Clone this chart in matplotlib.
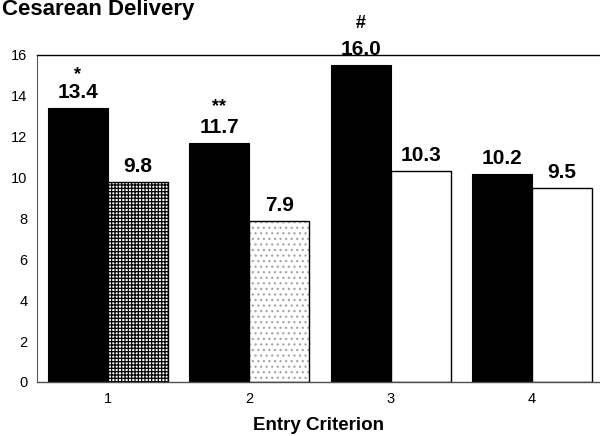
import matplotlib
matplotlib.use("Agg")
import matplotlib.pyplot as plt

plt.rcParams['font.family'] = ['Liberation Sans', 'DejaVu Sans']
plt.rcParams['hatch.linewidth'] = 0.9

# ======================================
# DATA
# ======================================
criteria = [1, 2, 3, 4]
black_heights = [13.4, 11.7, 15.5, 10.2]
black_labels = ["13.4", "11.7", "16.0", "10.2"]
other_heights = [9.8, 7.9, 10.3, 9.5]
other_labels = ["9.8", "7.9", "10.3", "9.5"]
markers = ["*", "**", "#", ""]

# style of the second bar in each group
other_hatch = ['+++++', '...', '', '']
other_hatch_color = ['black', '0.65', 'white', 'white']
marker_offset_px = [29, 32, 37, 0]

width = 0.425

fig = plt.figure(figsize=(6, 4.36), dpi=100)
ax = fig.add_axes([0.0617, 0.1239, 0.9383, 0.75])

xb = [c - width / 2 for c in criteria]
xo = [c + width / 2 for c in criteria]

ax.bar(xb, black_heights, width=width, color='black', edgecolor='black', linewidth=0.8)

# hatched fill first, then outline on top
for x, h, hatch, hc in zip(xo, other_heights, other_hatch, other_hatch_color):
    ax.bar(x, h, width=width, color='white', edgecolor=hc, linewidth=0, hatch=hatch)
    ax.bar(x, h, width=width, fill=False, edgecolor='black', linewidth=1.0)

# value labels
for x, h, lab in zip(xb + xo, black_heights + other_heights, black_labels + other_labels):
    ax.annotate(lab, (x, h), xytext=(0, 10), textcoords='offset pixels',
                ha='center', va='baseline', fontsize=15, fontweight='bold')

# significance markers
for x, h, m, off in zip(xb, black_heights, markers, marker_offset_px):
    if m:
        ax.annotate(m, (x, h), xytext=(0, off), textcoords='offset pixels',
                    ha='center', va='baseline', fontsize=13, fontweight='bold')

ax.set_xlim(0.5, 4.48)
ax.set_ylim(0, 16)
ax.set_yticks(range(0, 17, 2))
ax.set_xticks(criteria)
ax.tick_params(axis='both', length=0, labelsize=10.5)
ax.tick_params(axis='y', pad=7)
ax.tick_params(axis='x', pad=7)

ax.spines['right'].set_visible(False)
ax.spines['left'].set_color('0.35')
ax.spines['left'].set_linewidth(0.8)
ax.spines['top'].set_linewidth(1.0)
ax.spines['bottom'].set_linewidth(1.0)
ax.spines['bottom'].set_color('0.3')

ax.set_xlabel('Entry Criterion', fontsize=13.5, fontweight='bold', labelpad=8)

fig.text(0.003, (436 - 15) / 436, 'Cesarean Delivery', fontsize=16,
         fontweight='bold', ha='left', va='baseline')

fig.savefig('out.png', dpi=100)
